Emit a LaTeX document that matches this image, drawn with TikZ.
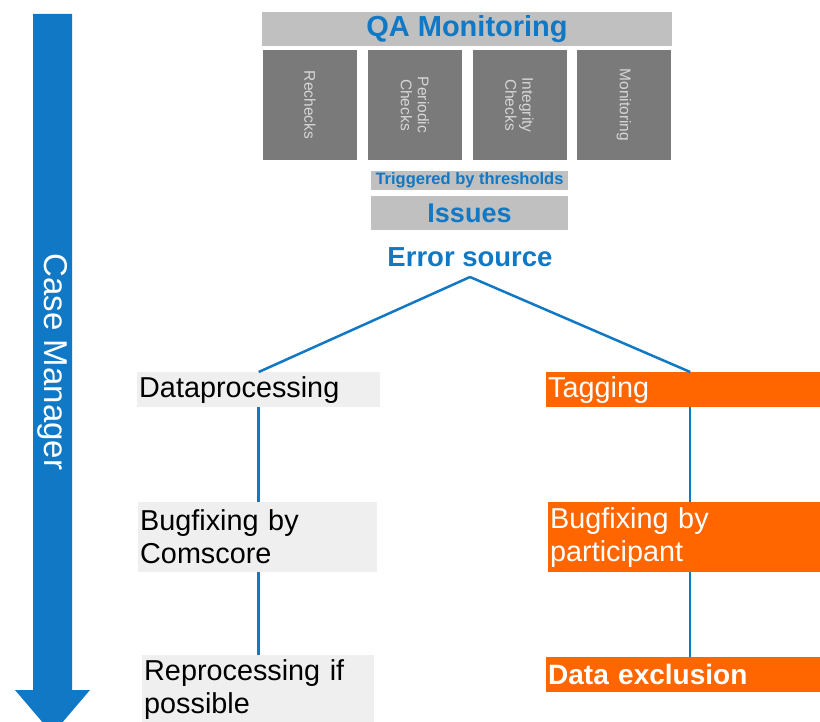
\documentclass[tikz,border=0pt]{standalone}
\usepackage{fontspec}
\setmainfont{Liberation Sans}
\definecolor{qblue}{RGB}{16,120,196}
\definecolor{qorange}{RGB}{255,102,0}
\definecolor{barbg}{RGB}{192,192,192}
\definecolor{darkbox}{RGB}{122,122,122}
\definecolor{darktext}{RGB}{215,215,215}
\definecolor{lightbg}{RGB}{239,239,239}
\tikzset{
  bar/.style={fill=barbg, inner sep=0pt, text=qblue, font=\bfseries},
  dbox/.style={fill=darkbox, rotate=-90, minimum width=110pt, minimum height=94pt, inner sep=0pt, text=darktext, align=center, font=\fontsize{15.5}{17}\selectfont},
  lbox/.style={fill=lightbg, text=black, font=\fontsize{28.8}{33}\selectfont, align=left, inner xsep=2pt, inner ysep=0pt, anchor=north west},
  obox/.style={lbox, fill=qorange, text=white},
  conn/.style={draw=qblue, line width=2.5pt}
}
\begin{document}
\begin{tikzpicture}[x=1pt,y=-1pt]
\useasboundingbox (0,0) rectangle (820,722);
\clip (0,0) rectangle (820,722);
% Case manager arrow
\fill[qblue] (33,14) -- (72,14) -- (72,690) -- (90,690) -- (52.5,734) -- (15,690) -- (33,690) -- cycle;
\node[rotate=-90, text=white, font=\fontsize{33}{35}\selectfont, inner sep=0pt] (cm) at (52.5,362) {Case Manager};
% QA monitoring
\node[bar, minimum width=410pt, minimum height=34pt, font=\bfseries\fontsize{29}{32}\selectfont] (qa) at (467,29) {QA Monitoring};
\node[dbox] (b1) at (310,105) {Rechecks};
\node[dbox] (b2) at (415,105) {Periodic\\Checks};
\node[dbox] (b3) at (519.5,105) {Integrity\\Checks};
\node[dbox] (b4) at (624,105) {Monitoring};
\node[bar, minimum width=197pt, minimum height=19pt, font=\bfseries\fontsize{16.5}{18}\selectfont] (trig) at (469.5,180.5) {Triggered by thresholds};
\node[bar, minimum width=197pt, minimum height=34pt, font=\bfseries\fontsize{27}{30}\selectfont] (iss) at (469.5,213) {Issues};
\node[text=qblue, font=\bfseries\fontsize{27.5}{30}\selectfont, inner sep=0pt] (err) at (470,257) {Error source};
% left branch
\node[lbox, text width=239pt, minimum height=35pt] (dp) at (137,372) {Dataprocessing};
\node[lbox, text width=235pt, minimum height=70pt] (bc) at (138,502) {Bugfixing by\\Comscore};
\node[lbox, text width=228pt, minimum height=68pt] (rp) at (142,655) {Reprocessing if\\possible};
\fill[lightbg] (rp.south west) rectangle ([yshift=-12pt]rp.south east);
% right branch
\node[obox, text width=284pt, minimum height=35pt] (tg) at (546,372) {Tagging};
\node[obox, text width=282pt, minimum height=70pt] (bp) at (548,502) {Bugfixing by\\participant};
\node[obox, text width=284pt, minimum height=35pt, font=\bfseries\fontsize{28}{33}\selectfont] (dx) at (546,657) {Data exclusion};
% connectors
\coordinate (top) at (470,277);
\draw[conn] (top) -- (dp.north);
\draw[conn] (top) -- (tg.north);
\draw[conn] (dp.south) -- (bc.north -| dp.south);
\draw[conn] (bc.south -| dp.south) -- (rp.north -| dp.south);
\draw[conn] (tg.south) -- (bp.north -| tg.south);
\draw[conn] (bp.south -| tg.south) -- (dx.north -| tg.south);
\end{tikzpicture}
\end{document}
